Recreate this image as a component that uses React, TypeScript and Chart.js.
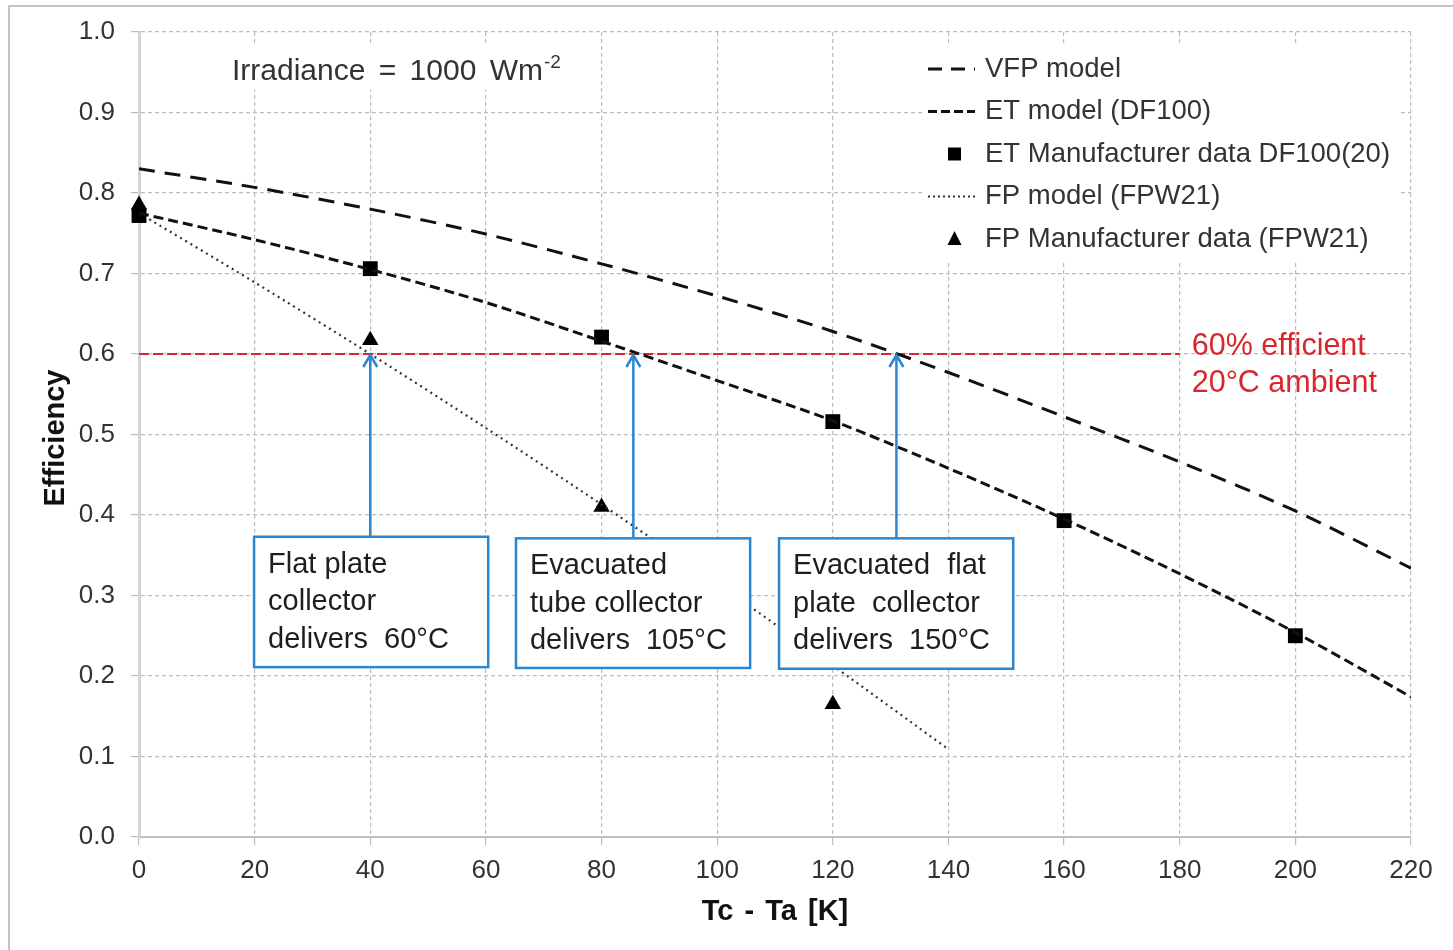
import React, { useEffect, useRef } from "react";
import { Chart, registerables } from "chart.js";

Chart.register(...registerables);

const FONT = "'Liberation Sans', Arial, Helvetica, sans-serif";

// ---------------- data ----------------
const modelX = [0, 20, 40, 60, 80, 100, 120, 140, 160, 180, 200, 220];
const vfpModel = [0.83, 0.807, 0.78, 0.749, 0.712, 0.672, 0.628, 0.577, 0.522, 0.466, 0.405, 0.334];
const etModel = [0.775, 0.742, 0.705, 0.664, 0.616, 0.567, 0.517, 0.458, 0.395, 0.327, 0.254, 0.174];
const fpModelX = [0, 20, 40, 60, 80, 100, 120, 140];
const fpModel = [0.775, 0.689, 0.6, 0.508, 0.413, 0.315, 0.213, 0.109];
const etDataX = [0, 40, 80, 120, 160, 200];
const etData = [0.772, 0.706, 0.621, 0.516, 0.393, 0.25];
const fpDataX = [0, 40, 80, 120];
const fpData = [0.785, 0.617, 0.41, 0.165];

const seriesNames = [
  "VFP model",
  "ET model (DF100)",
  "ET Manufacturer data DF100(20)",
  "FP model (FPW21)",
  "FP Manufacturer data (FPW21)",
];
const xTitle = "Tc - Ta [K]";
const yTitle = "Efficiency";
const irradianceLabel = "Irradiance = 1000 Wm";
const irradianceSup = "-2";
const thresholdValue = 0.6;
const thresholdEndX = 180;
const thresholdLabels = ["60% efficient", "20°C ambient"];
const deliveryX = [40, 85.5, 131];
const boxLines = [
  ["Flat plate", "collector", "delivers 60°C"],
  ["Evacuated", "tube collector", "delivers 105°C"],
  ["Evacuated flat", "plate collector", "delivers 150°C"],
];

// ---------------- styles / annotation geometry ----------------
const RED = "#d8262c";
const BLUE = "#2a86d1";
const TEXT = "#333333";
const boxGeom = [
  { x0: 19.9, x1: 60.4, top: 0.373, bottom: 0.211 },
  { x0: 65.2, x1: 105.7, top: 0.371, bottom: 0.21 },
  { x0: 110.7, x1: 151.2, top: 0.371, bottom: 0.209 },
];
const boxWordExtra = [
  [0, 0, 8],
  [0, 0, 8],
  [9, 8, 8],
];

const pts = (xs: number[], ys: number[]) => xs.map((x, i) => ({ x, y: ys[i] }));

function wordsWidth(ctx: CanvasRenderingContext2D, text: string, extra: number) {
  const words = text.split(" ");
  const sp = ctx.measureText(" ").width + extra;
  let w = 0;
  words.forEach((wd, k) => {
    w += ctx.measureText(wd).width + (k < words.length - 1 ? sp : 0);
  });
  return w;
}

function drawWords(ctx: CanvasRenderingContext2D, text: string, x: number, y: number, extra: number) {
  const words = text.split(" ");
  const sp = ctx.measureText(" ").width + extra;
  let cx = x;
  words.forEach((w) => {
    ctx.fillText(w, cx, y);
    cx += ctx.measureText(w).width + sp;
  });
}

const overlayPlugin = {
  id: "overlay",
  beforeDatasetsDraw(chart: any) {
    const { ctx, scales, chartArea } = chart;
    const xs = scales.x;
    const ys = scales.y;
    const py = ys.getPixelForValue(thresholdValue);
    ctx.save();
    // white backgrounds for the irradiance label and the legend
    ctx.fillStyle = "#ffffff";
    ctx.fillRect(chartArea.left + 88, chartArea.top + 14, 340, 44);
    ctx.fillRect(chartArea.right - 488, chartArea.top + 14, 475, 216);
    ctx.strokeStyle = RED;
    ctx.lineWidth = 2;
    ctx.setLineDash([10, 4]);
    ctx.beginPath();
    ctx.moveTo(xs.getPixelForValue(0), py);
    ctx.lineTo(xs.getPixelForValue(thresholdEndX), py);
    ctx.stroke();
    ctx.restore();
  },
  afterDatasetsDraw(chart: any) {
    const { ctx, scales, chartArea } = chart;
    const xs = scales.x;
    const ys = scales.y;
    const py = ys.getPixelForValue(thresholdValue);

    // red labels
    ctx.save();
    ctx.fillStyle = RED;
    ctx.font = `30.5px ${FONT}`;
    ctx.textBaseline = "middle";
    ctx.textAlign = "left";
    const lx = xs.getPixelForValue(thresholdEndX) + 12;
    ctx.fillText(thresholdLabels[0], lx, py - 7);
    ctx.fillText(thresholdLabels[1], lx, py + 30);
    ctx.restore();

    // boxes + arrows
    boxGeom.forEach((b, i) => {
      const l = xs.getPixelForValue(b.x0);
      const r = xs.getPixelForValue(b.x1);
      const t = ys.getPixelForValue(b.top);
      const bt = ys.getPixelForValue(b.bottom);
      ctx.save();
      ctx.fillStyle = "#ffffff";
      ctx.fillRect(l, t, r - l, bt - t);
      ctx.strokeStyle = BLUE;
      ctx.lineWidth = 2.5;
      ctx.strokeRect(l, t, r - l, bt - t);
      // arrow
      const ax = xs.getPixelForValue(deliveryX[i]);
      ctx.beginPath();
      ctx.moveTo(ax, t);
      ctx.lineTo(ax, py + 1);
      ctx.stroke();
      ctx.beginPath();
      ctx.moveTo(ax - 7, py + 13);
      ctx.lineTo(ax, py + 1);
      ctx.lineTo(ax + 7, py + 13);
      ctx.stroke();
      // text
      ctx.fillStyle = "#1e1e1e";
      ctx.font = `29px ${FONT}`;
      ctx.textBaseline = "middle";
      ctx.textAlign = "left";
      boxLines[i].forEach((line, j) => {
        drawWords(ctx, line, l + 14, t + 28 + j * 37.5, boxWordExtra[i][j]);
      });
      ctx.restore();
    });

    // irradiance label
    ctx.save();
    ctx.fillStyle = TEXT;
    ctx.textBaseline = "alphabetic";
    ctx.textAlign = "left";
    ctx.font = `30px ${FONT}`;
    const ix = chartArea.left + 93;
    const iy = chartArea.top + 48;
    drawWords(ctx, irradianceLabel, ix, iy, 5);
    const w = wordsWidth(ctx, irradianceLabel, 5);
    ctx.font = `19px ${FONT}`;
    ctx.fillText(irradianceSup, ix + w + 1, iy - 12);
    ctx.restore();

    // legend
    ctx.save();
    const sx0 = chartArea.right - 483;
    const sx1 = sx0 + 47;
    const tx = sx0 + 57;
    chart.data.datasets.forEach((ds: any, i: number) => {
      const cy = chartArea.top + 37 + i * 42.5;
      ctx.save();
      if (ds.showLine) {
        ctx.strokeStyle = ds.borderColor;
        ctx.lineWidth = ds.borderWidth;
        ctx.setLineDash(ds.legendDash);
        ctx.beginPath();
        ctx.moveTo(sx0, cy);
        ctx.lineTo(sx1, cy);
        ctx.stroke();
      } else {
        ctx.fillStyle = "#000";
        const mx = (sx0 + sx1) / 2 + 3;
        ctx.beginPath();
        if (ds.pointStyle === "rect") {
          ctx.rect(mx - 6.5, cy - 6.5, 13, 13);
        } else {
          ctx.moveTo(mx, cy - 8);
          ctx.lineTo(mx + 7, cy + 6);
          ctx.lineTo(mx - 7, cy + 6);
          ctx.closePath();
        }
        ctx.fill();
      }
      ctx.restore();
      ctx.fillStyle = TEXT;
      ctx.font = `27.5px ${FONT}`;
      ctx.textBaseline = "middle";
      ctx.textAlign = "left";
      ctx.fillText(ds.label, tx, cy);
    });
    ctx.restore();
  },
  afterDraw(chart: any) {
    const { ctx, chartArea } = chart;
    ctx.save();
    ctx.fillStyle = "#111111";
    ctx.font = `bold 29px ${FONT}`;
    ctx.textAlign = "left";
    ctx.textBaseline = "middle";
    const tw = wordsWidth(ctx, xTitle, 3);
    drawWords(ctx, xTitle, (chartArea.left + chartArea.right) / 2 - tw / 2, 912, 3);
    ctx.textAlign = "center";
    ctx.translate(56, 438);
    ctx.rotate(-Math.PI / 2);
    ctx.fillText(yTitle, 0, 0);
    ctx.restore();
    // outer frame
    ctx.save();
    ctx.strokeStyle = "#c4c4c4";
    ctx.lineWidth = 2;
    ctx.strokeRect(9, 6, 1500, 1000);
    ctx.restore();
  },
};

export default function App() {
  const ref = useRef<HTMLCanvasElement>(null);
  useEffect(() => {
    document.body.style.margin = "0";
    const canvas = ref.current!;
    const chart = new Chart(canvas, {
      type: "scatter",
      data: {
        datasets: [
          {
            label: seriesNames[0],
            data: pts(modelX, vfpModel),
            showLine: true,
            borderColor: "#111111",
            borderWidth: 3,
            borderDash: [16, 10],
            legendDash: [14, 9],
            pointRadius: 0,
            tension: 0.3,
            fill: false,
          } as any,
          {
            label: seriesNames[1],
            data: pts(modelX, etModel),
            showLine: true,
            borderColor: "#111111",
            borderWidth: 3,
            borderDash: [10, 5],
            legendDash: [9, 4],
            pointRadius: 0,
            tension: 0.3,
            fill: false,
          } as any,
          {
            label: seriesNames[2],
            data: pts(etDataX, etData),
            showLine: false,
            pointStyle: "rect",
            pointRadius: 10.5,
            backgroundColor: "#000000",
            borderColor: "#000000",
            borderWidth: 0,
            clip: false,
          } as any,
          {
            label: seriesNames[3],
            data: pts(fpModelX, fpModel),
            showLine: true,
            borderColor: "#333333",
            borderWidth: 2.2,
            borderDash: [2, 4],
            legendDash: [2, 3],
            pointRadius: 0,
            tension: 0.3,
            fill: false,
          } as any,
          {
            label: seriesNames[4],
            data: pts(fpDataX, fpData),
            showLine: false,
            pointStyle: "triangle",
            pointRadius: 9.5,
            backgroundColor: "#000000",
            borderColor: "#000000",
            borderWidth: 0,
            clip: false,
          } as any,
        ],
      },
      options: {
        responsive: false,
        animation: false,
        devicePixelRatio: 1,
        layout: { padding: { left: 0, top: 32, right: 42, bottom: 0 } },
        plugins: {
          legend: { display: false },
          title: { display: false },
          tooltip: { enabled: false },
        },
        scales: {
          x: {
            type: "linear",
            min: 0,
            max: 220,
            ticks: {
              stepSize: 20,
              color: TEXT,
              font: { family: FONT, size: 26 },
              padding: 10,
            },
            grid: { color: "#bcbcbc", lineWidth: 1.2, tickLength: 8 },
            border: { display: true, color: "#bfbfbf", width: 2, dash: [4, 3] },
            afterFit: (s: any) => {
              s.height = 113;
            },
          },
          y: {
            type: "linear",
            min: 0,
            max: 1,
            ticks: {
              stepSize: 0.1,
              color: TEXT,
              font: { family: FONT, size: 26 },
              padding: 16,
              callback: (v: any) => Number(v).toFixed(1),
            },
            grid: { color: "#bcbcbc", lineWidth: 1.2, tickLength: 8 },
            border: { display: true, color: "#d4d4d4", width: 3, dash: [4, 3] },
            afterFit: (s: any) => {
              s.width = 139;
            },
          },
        },
      } as any,
      plugins: [overlayPlugin],
    });
    return () => chart.destroy();
  }, []);
  return (
    <canvas
      ref={ref}
      width={1453}
      height={950}
      style={{ display: "block", width: 1453, height: 950 }}
    />
  );
}
